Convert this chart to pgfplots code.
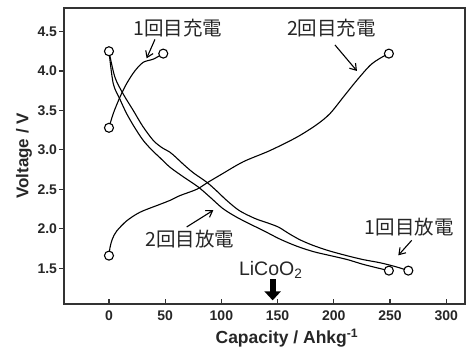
\documentclass[border=0pt]{standalone}
\usepackage{pgfplots}
\pgfplotsset{compat=1.18}
\usepackage{fontspec}
\setmainfont{Liberation Sans}
\newfontfamily\jp{Noto Sans CJK JP}
\usetikzlibrary{arrows.meta}

\begin{document}
\begin{tikzpicture}
\begin{axis}[
  scale only axis, width=401pt, height=296pt,
  xmin=-40, xmax=316.7, ymin=1.047, ymax=4.798,
  clip=false,
  axis line style={line width=1.3pt, black!80},
  xtick={0,50,...,300}, ytick={1.5,2.0,...,4.5},
  xtick pos=bottom, ytick pos=left,
  tick align=inside, major tick length=5pt,
  tick style={line width=1.1pt, black!80},
  y tick style={xshift=-5pt},
  /pgf/number format/assume math mode=true,
  tick label style={font=\bfseries\fontsize{14}{15}\selectfont, text=black!85},
  xticklabel style={yshift=-3pt},
  yticklabel style={xshift=-3.5pt, /pgf/number format/fixed, /pgf/number format/fixed zerofill, /pgf/number format/precision=1},
  xlabel={Capacity / Ahkg\textsuperscript{-1}},
  ylabel={Voltage / V},
  xlabel style={at={(axis description cs:0.556,-0.115)}, anchor=center, font=\bfseries\fontsize{17.5}{19}\selectfont, text=black!85},
  ylabel style={at={(axis description cs:-0.1,0.5)}, anchor=center, font=\bfseries\fontsize{17}{19}\selectfont, text=black!85},
]
% 1st charge
\addplot[line width=1.1pt, smooth, tension=0.5] coordinates {
(0,3.28) (3.8,3.46) (9.8,3.67) (15.7,3.84) (23,4.0) (30.5,4.11) (39.4,4.15) (48.3,4.22)};
% 1st discharge
\addplot[line width=1.1pt, smooth, tension=0.5] coordinates {
(0,4.25) (5.3,3.92) (13,3.7) (21.6,3.5) (30,3.3) (39.4,3.12) (47,3.03) (54.3,2.97) (60,2.9) (66,2.82) (75,2.71) (87,2.59) (95.8,2.48) (104.7,2.36) (116,2.23) (130,2.13) (142,2.07) (151,2.02) (160,1.94) (170,1.86) (181.5,1.79) (196,1.72) (211.5,1.66) (226,1.61) (241,1.57) (255,1.52) (266.3,1.47)};
% 2nd discharge
\addplot[line width=1.1pt, smooth, tension=0.5] coordinates {
(0,4.25) (3.8,3.84) (9.8,3.64) (15.7,3.46) (23,3.28) (30.5,3.12) (38,3.0) (45.4,2.9) (54.3,2.78) (66,2.66) (79.4,2.53) (90,2.4) (101,2.26) (112,2.16) (124,2.07) (137,1.98) (152,1.87) (167,1.78) (182,1.71) (197,1.66) (212,1.61) (226,1.55) (240,1.5) (249,1.47)};
% 2nd charge
\addplot[line width=1.1pt, smooth, tension=0.5] coordinates {
(0,1.66) (0.9,1.76) (3,1.87) (6.8,1.97) (15.7,2.1) (27.6,2.21) (45.4,2.31) (54.3,2.36) (63,2.42) (78,2.5) (87,2.58) (100,2.69) (119.5,2.85) (143,2.99) (167,3.16) (184.8,3.32) (196.6,3.46) (208.5,3.67) (220.4,3.88) (232.2,4.07) (241,4.16) (249,4.22)};
% end markers
\addplot[only marks, mark=*, mark size=4.5pt, mark options={fill=white, draw=black, line width=1.1pt}] coordinates {
(0,3.28) (48.3,4.22) (0,4.25) (266.3,1.47) (249,1.47) (0,1.66) (249,4.22)};

\node[font=\jp\fontsize{19.5}{20}\selectfont, text=black!85] at (axis cs:61.4,4.54) {1回目充電};
\node[font=\jp\fontsize{19.5}{20}\selectfont, text=black!85] at (axis cs:198,4.54) {2回目充電};
\node[font=\jp\fontsize{19.5}{20}\selectfont, text=black!85] at (axis cs:71.8,1.87) {2回目放電};
\node[font=\jp\fontsize{19.5}{20}\selectfont, text=black!85] at (axis cs:267,2.02) {1回目放電};
\node[font=\fontsize{19.5}{21}\selectfont, anchor=base west, inner sep=0pt, text=black!85] at (axis cs:115.5,1.41) {LiCoO\textsubscript{2}};

\draw[line width=1.1pt, -{Straight Barb[length=6pt,width=8pt]}] (axis cs:40.9,4.40) -- (axis cs:33.5,4.16);
\draw[line width=1.1pt, -{Straight Barb[length=6pt,width=8pt]}] (axis cs:201,4.33) -- (axis cs:220.6,4.0);
\draw[line width=1.1pt, -{Straight Barb[length=6pt,width=8pt]}] (axis cs:69.1,2.023) -- (axis cs:92.8,2.235);
\draw[line width=1.1pt, -{Straight Barb[length=6pt,width=8pt]}] (axis cs:269.3,1.854) -- (axis cs:257.4,1.664);
\draw[line width=6pt, -{Triangle[length=9pt,width=16pt]}] (axis cs:145.6,1.36) -- (axis cs:145.6,1.093);
\end{axis}
\pgfresetboundingbox
\path (-64pt,-47pt) rectangle (404pt,304pt);
\end{tikzpicture}
\end{document}
